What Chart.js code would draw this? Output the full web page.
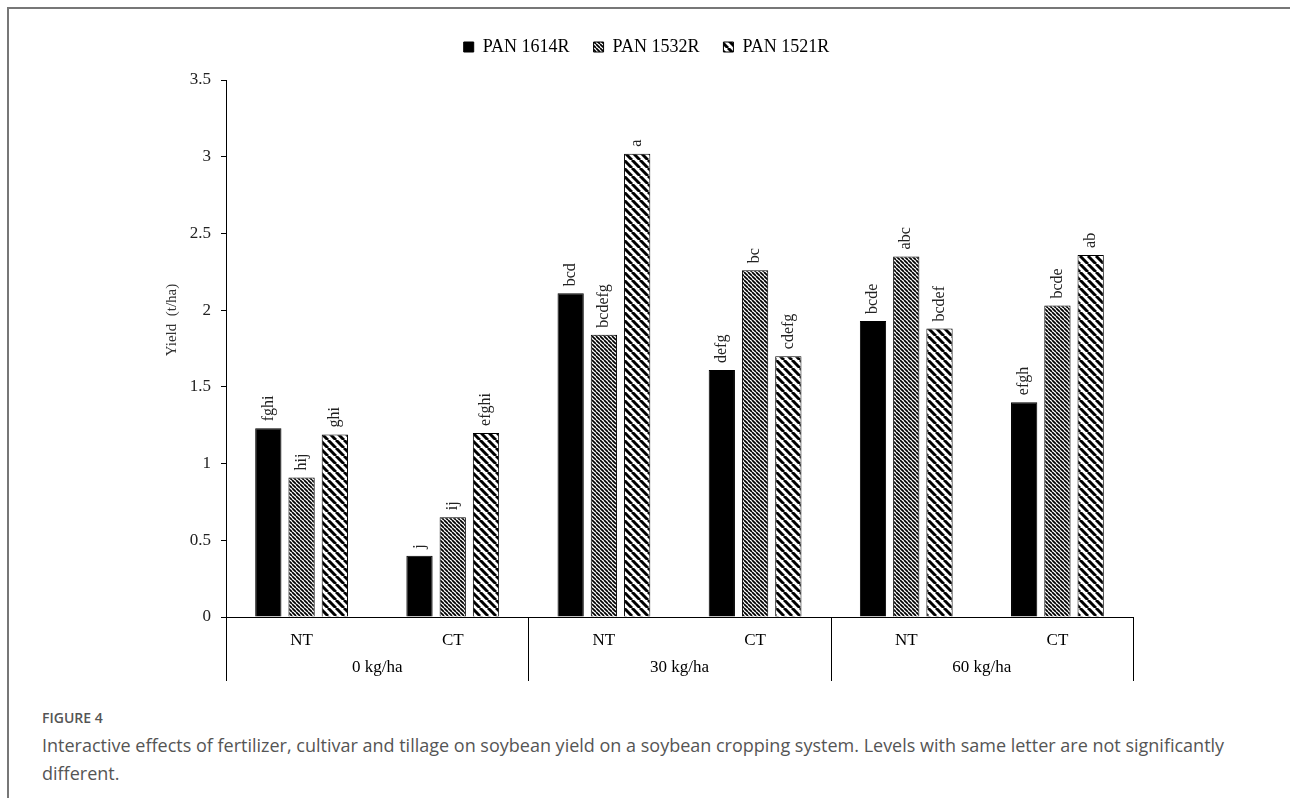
<!DOCTYPE html>
<html>
<head>
<meta charset="utf-8">
<script src="https://cdn.jsdelivr.net/npm/chart.js@4.4.0/dist/chart.umd.min.js"></script>
<style>
  html, body { margin: 0; padding: 0; background: #fff; }
  body { width: 1290px; height: 798px; position: relative; overflow: hidden; }
  #frame { position: absolute; left: 7px; top: 7px; right: 0; bottom: 0;
           border-left: 2px solid #777; border-top: 2px solid #777; }
  #wrap { position: absolute; left: 0; top: 0; width: 1290px; height: 690px; }
  #fig { position: absolute; left: 42px; top: 708px; font-family: "Open Sans", sans-serif;
         font-size: 14px; font-weight: 600; color: #555; }
  #cap { position: absolute; left: 42px; top: 731px; width: 1230px; font-family: "Open Sans", sans-serif;
         font-size: 18px; line-height: 28px; color: #555; }
</style>
</head>
<body>
<div id="frame"></div>
<div id="wrap"><canvas id="chart"></canvas></div>
<div id="fig">FIGURE 4</div>
<div id="cap">Interactive effects of fertilizer, cultivar and tillage on soybean yield on a soybean cropping system. Levels with same letter are not significantly different.</div>
<script>
"use strict";
var categories = ['NT', 'CT', 'NT', 'CT', 'NT', 'CT'];
var groups = ['0 kg/ha', '30 kg/ha', '60 kg/ha'];
var yTicks = [0, 0.5, 1, 1.5, 2, 2.5, 3, 3.5];
var yTitle = 'Yield  (t/ha)';

var pan1614R = [1.23, 0.40, 2.11, 1.61, 1.93, 1.40];
var pan1532R = [0.91, 0.65, 1.84, 2.26, 2.35, 2.03];
var pan1521R = [1.19, 1.20, 3.02, 1.70, 1.88, 2.36];

var letters1614R = ['fghi', 'j', 'bcd', 'defg', 'bcde', 'efgh'];
var letters1532R = ['hij', 'ij', 'bcdefg', 'bc', 'abc', 'bcde'];
var letters1521R = ['ghi', 'efghi', 'a', 'cdefg', 'bcdef', 'ab'];

var serif = "'Liberation Serif', 'Times New Roman', serif";

// diagonal "\" hatch
function hatch(size, width) {
    var c = document.createElement('canvas');
    c.width = size; c.height = size;
    var g = c.getContext('2d');
    g.fillStyle = '#fff';
    g.fillRect(0, 0, size, size);
    g.strokeStyle = '#000';
    g.lineWidth = width;
    for (var k = -1; k <= 1; k++) {
        g.beginPath();
        g.moveTo(k * size, 0);
        g.lineTo(k * size + size, size);
        g.stroke();
    }
    return g.createPattern(c, 'repeat');
}

var letters = [letters1614R, letters1532R, letters1521R];

var barLetters = {
    id: 'barLetters',
    afterDatasetsDraw: function(chart) {
        var ctx = chart.ctx;
        ctx.save();
        ctx.font = '16px ' + serif;
        ctx.fillStyle = '#222';
        ctx.textAlign = 'left';
        ctx.textBaseline = 'middle';
        chart.data.datasets.forEach(function(ds, i) {
            chart.getDatasetMeta(i).data.forEach(function(bar, j) {
                ctx.save();
                ctx.translate(bar.x, bar.y - 7);
                ctx.rotate(-Math.PI / 2);
                ctx.fillText(letters[i][j], 0, 0);
                ctx.restore();
            });
        });
        ctx.restore();
    }
};

var groupLines = {
    id: 'groupLines',
    afterDraw: function(chart) {
        var x = chart.scales.x, x2 = chart.scales.x2, ctx = chart.ctx;
        var xs = [x.left];
        for (var i = 1; i < categories.length; i += 2) {
            if (i + 1 < categories.length) {
                xs.push((x.getPixelForTick(i) + x.getPixelForTick(i + 1)) / 2);
            }
        }
        xs.push(x.right);
        ctx.save();
        ctx.strokeStyle = '#000';
        ctx.lineWidth = 1;
        xs.forEach(function(px) {
            px = Math.round(px) + 0.5;
            ctx.beginPath();
            ctx.moveTo(px, chart.chartArea.bottom);
            ctx.lineTo(px, x2.bottom - 4);
            ctx.stroke();
        });
        ctx.restore();
    }
};

// y title sits a bit above the middle in the original
var yTitlePlugin = {
    id: 'yTitlePlugin',
    afterDraw: function(chart) {
        var a = chart.chartArea, ctx = chart.ctx;
        ctx.save();
        ctx.font = '15px ' + serif;
        ctx.fillStyle = '#333';
        ctx.textAlign = 'center';
        ctx.textBaseline = 'middle';
        ctx.translate(chart.scales.y.left + 12, a.top + (a.bottom - a.top) * 0.447);
        ctx.rotate(-Math.PI / 2);
        ctx.fillText(yTitle, 0, 0);
        ctx.restore();
    }
};

// extra room under the legend
var legendGap = {
    id: 'legendGap',
    beforeLayout: function(chart) {
        var lg = chart.legend;
        if (lg && !lg._gapPatched) {
            var fit = lg.fit;
            lg.fit = function() {
                fit.call(this);
                this.height += 14;
            };
            lg._gapPatched = true;
        }
    }
};

var ctx = document.getElementById('chart').getContext('2d');
new Chart(ctx, {
    type: 'bar',
    data: {
        labels: categories,
        datasets: [
            { label: 'PAN 1614R', data: pan1614R, backgroundColor: '#000', borderColor: '#000', borderWidth: 1 },
            { label: 'PAN 1532R', data: pan1532R, backgroundColor: hatch(4, 1.7), borderColor: '#000', borderWidth: 1 },
            { label: 'PAN 1521R', data: pan1521R, backgroundColor: hatch(8, 3), borderColor: '#000', borderWidth: 1 }
        ]
    },
    options: {
        responsive: true,
        maintainAspectRatio: false,
        animation: false,
        categoryPercentage: 0.66,
        barPercentage: 0.79,
        layout: { padding: { left: 160, right: 157, top: 14, bottom: 5 } },
        plugins: {
            legend: {
                position: 'top',
                labels: {
                    boxWidth: 10, boxHeight: 10, padding: 24,
                    color: '#000', font: { family: serif, size: 18 }
                }
            },
            tooltip: { enabled: false }
        },
        scales: {
            x: {
                weight: 0,
                grid: { display: false, drawTicks: false },
                border: { display: true, color: '#000', width: 1 },
                ticks: { color: '#000', padding: 13, font: { family: serif, size: 17 } },
                afterFit: function(s) { s.height = 36; }
            },
            x2: {
                type: 'category',
                labels: groups,
                position: 'bottom',
                weight: 1,
                offset: true,
                grid: { display: false, drawTicks: false },
                border: { display: false },
                ticks: { color: '#000', padding: 4, font: { family: serif, size: 17 } },
                afterFit: function(s) { s.height = 32; }
            },
            y: {
                min: 0, max: 3.5,
                afterBuildTicks: function(s) { s.ticks = yTicks.map(function(v) { return { value: v }; }); },
                grid: { drawOnChartArea: false, tickLength: 5, color: '#000' },
                border: { display: true, color: '#000', width: 1 },
                ticks: {
                    color: '#222', padding: 10, font: { family: serif, size: 17 },
                    callback: function(v) { return String(v); }
                },
                afterFit: function(s) { s.width = 66; }
            }
        }
    },
    plugins: [barLetters, groupLines, yTitlePlugin, legendGap]
});
</script>
</body>
</html>
